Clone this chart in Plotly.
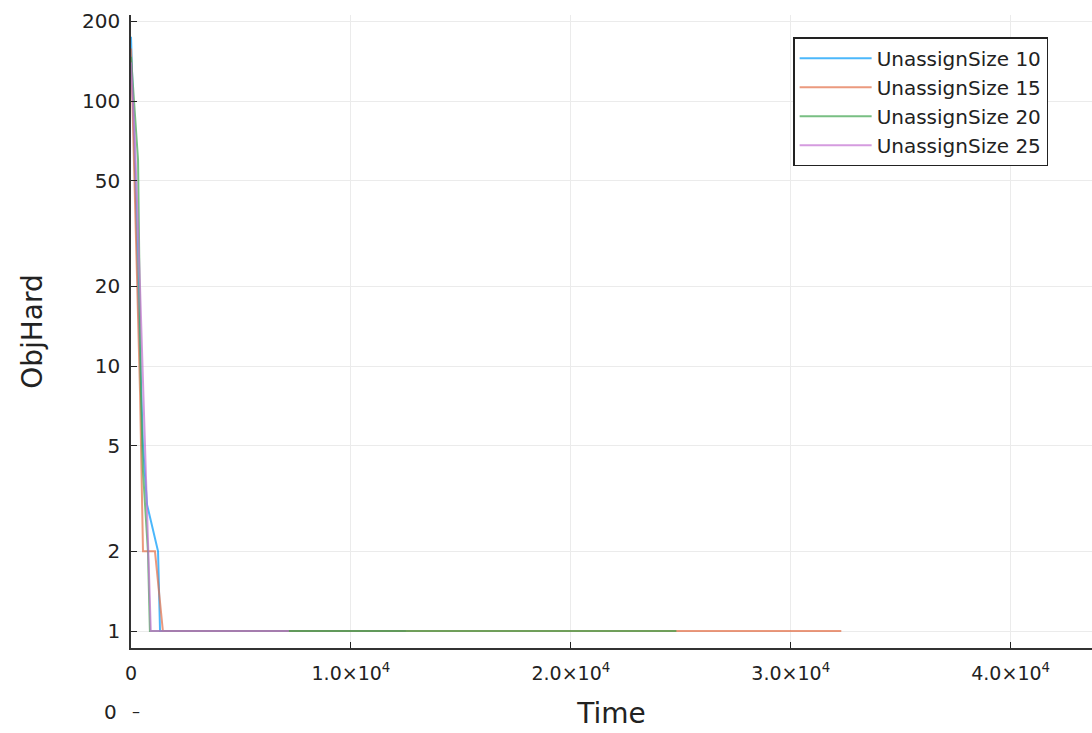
import plotly.graph_objects as go

names = ["UnassignSize 10", "UnassignSize 15", "UnassignSize 20", "UnassignSize 25"]
colors = ["#009AFA", "#E36F47", "#3EA44E", "#C371D2"]

t10 = [0, 90, 230, 360, 545, 730, 1230, 1320, 12500]
y10 = [175, 100, 40, 15, 5, 3, 2, 1, 1]
t15 = [0, 140, 230, 410, 545, 1090, 1450, 32300]
y15 = [158, 60, 30, 8, 2, 2, 1, 1]
t20 = [0, 320, 450, 545, 770, 860, 24800]
y20 = [147, 60, 8, 4, 2, 1, 1]
t25 = [0, 180, 410, 640, 770, 900, 7180]
y25 = [140, 70, 20, 5, 2, 1, 1]

xtick_vals = [0, 10000, 20000, 30000, 40000]
xtick_text = ["0", "1.0×10<sup>4</sup>", "2.0×10<sup>4</sup>", "3.0×10<sup>4</sup>", "4.0×10<sup>4</sup>"]
ytick_vals = [1, 2, 5, 10, 20, 50, 100, 200]
ytick_text = ["1", "2", "5", "10", "20", "50", "100", "200"]

fig = go.Figure()
for t, y, n, c in zip([t10, t15, t20, t25], [y10, y15, y20, y25], names, colors):
    fig.add_trace(go.Scatter(x=t, y=y, mode="lines", name=n,
                             line=dict(color=c, width=2), opacity=0.7))

font = "DejaVu Sans"
fig.update_layout(
    width=1092, height=733,
    margin=dict(l=131, r=0, t=15, b=85),
    paper_bgcolor="white", plot_bgcolor="white",
    font=dict(family=font, color="#222222", size=18),
    showlegend=True,
    legend=dict(x=0.689, y=0.965, xanchor="left", yanchor="top",
                bgcolor="white", bordercolor="#222222", borderwidth=1.5,
                font=dict(size=20, family=font), tracegroupgap=0,
                itemwidth=72),
    xaxis=dict(
        range=[0, 43700], tickvals=xtick_vals, ticktext=xtick_text,
        showgrid=True, gridcolor="#ebebeb", gridwidth=1,
        showline=True, linecolor="#333333", linewidth=1.5,
        ticks="inside", ticklen=6, tickcolor="#222222", tickwidth=1.2,
        zeroline=False, tickfont=dict(size=19), automargin=False,
        ticklabelstandoff=7,
        title=dict(text="Time", font=dict(size=28), standoff=21),
    ),
    yaxis=dict(
        type="log", range=[-0.064, 2.325], tickvals=ytick_vals, ticktext=ytick_text,
        showgrid=True, gridcolor="#ebebeb", gridwidth=1,
        showline=True, linecolor="#333333", linewidth=1.5,
        ticks="inside", ticklen=6, tickcolor="#222222", tickwidth=1.2,
        zeroline=False, tickfont=dict(size=20), automargin=False,
        ticklabelstandoff=5,
        title=dict(text="ObjHard", font=dict(size=28), standoff=31),
    ),
)
fig.add_annotation(text="0", xref="paper", yref="paper", x=0, y=-0.101,
                   xanchor="right", yanchor="middle", showarrow=False,
                   xshift=-12, font=dict(size=20, family=font, color="#222222"))
fig.add_annotation(text="–", xref="paper", yref="paper", x=0, y=-0.101,
                   xanchor="center", yanchor="middle", showarrow=False,
                   xshift=5, font=dict(size=16, family=font, color="#222222"))
fig.write_html("out.html", config={"displayModeBar": False},
               post_script="document.body.style.margin='0';document.body.style.overflow='hidden';")
